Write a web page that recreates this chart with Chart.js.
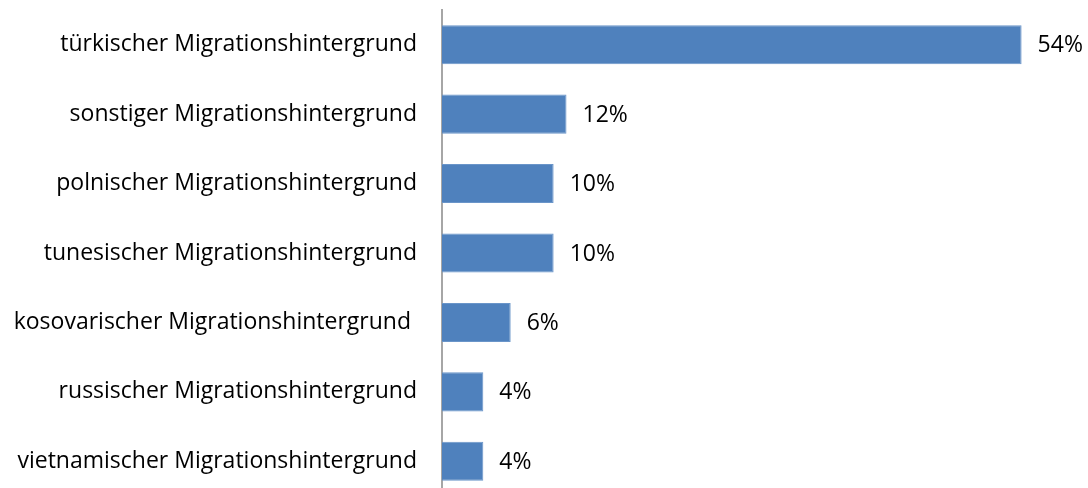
<!DOCTYPE html>
<html>
<head>
<meta charset="utf-8">
<script src="https://cdn.jsdelivr.net/npm/chart.js@4"></script>
<style>
  html, body { margin: 0; padding: 0; background: #fff; overflow: hidden; }
  #wrap { position: absolute; left: 0; top: 0; width: 1088px; height: 496px; }
</style>
</head>
<body>
<div id="wrap"><canvas id="c"></canvas></div>
<script>
const categories = [
  "türkischer Migrationshintergrund",
  "sonstiger Migrationshintergrund",
  "polnischer Migrationshintergrund",
  "tunesischer Migrationshintergrund",
  "kosovarischer Migrationshintergrund ",
  "russischer Migrationshintergrund",
  "vietnamischer Migrationshintergrund"
];
const values = [54.0, 11.6, 10.4, 10.4, 6.4, 3.85, 3.85];
const valueLabels = ["54%", "12%", "10%", "10%", "6%", "4%", "4%"];

const FONT = { family: "'Open Sans', sans-serif", size: 23 };

const valueLabelPlugin = {
  id: 'valueLabels',
  afterDatasetsDraw(chart) {
    const ctx = chart.ctx;
    const meta = chart.getDatasetMeta(0);
    ctx.save();
    ctx.font = FONT.size + "px " + FONT.family;
    ctx.fillStyle = '#000';
    ctx.textAlign = 'left';
    ctx.textBaseline = 'middle';
    meta.data.forEach((bar, i) => {
      ctx.fillText(valueLabels[i], bar.x + 16, bar.y + 1);
    });
    ctx.restore();
  }
};

new Chart(document.getElementById('c'), {
  type: 'bar',
  data: {
    labels: categories,
    datasets: [{
      data: values,
      backgroundColor: '#4f81bd',
      borderColor: '#6a95c9',
      borderWidth: 1,
      borderSkipped: 'left',
      categoryPercentage: 1.0,
      barPercentage: 0.563
    }]
  },
  options: {
    indexAxis: 'y',
    responsive: true,
    maintainAspectRatio: false,
    animation: false,
    layout: { padding: { top: 10, right: 2, bottom: 0, left: 0 } },
    plugins: { legend: { display: false }, tooltip: { enabled: false } },
    scales: {
      x: {
        display: false,
        min: 0,
        max: 60
      },
      y: {
        afterFit(scale) {
          scale.width = 442;
          scale.paddingTop = 0;
          scale.paddingBottom = 0;
        },
        grid: { display: false, drawTicks: false },
        border: { display: true, color: '#a6a6a6', width: 2 },
        ticks: {
          color: '#000',
          font: FONT,
          padding: 25,
          autoSkip: false
        }
      }
    }
  },
  plugins: [valueLabelPlugin]
});
</script>
</body>
</html>
